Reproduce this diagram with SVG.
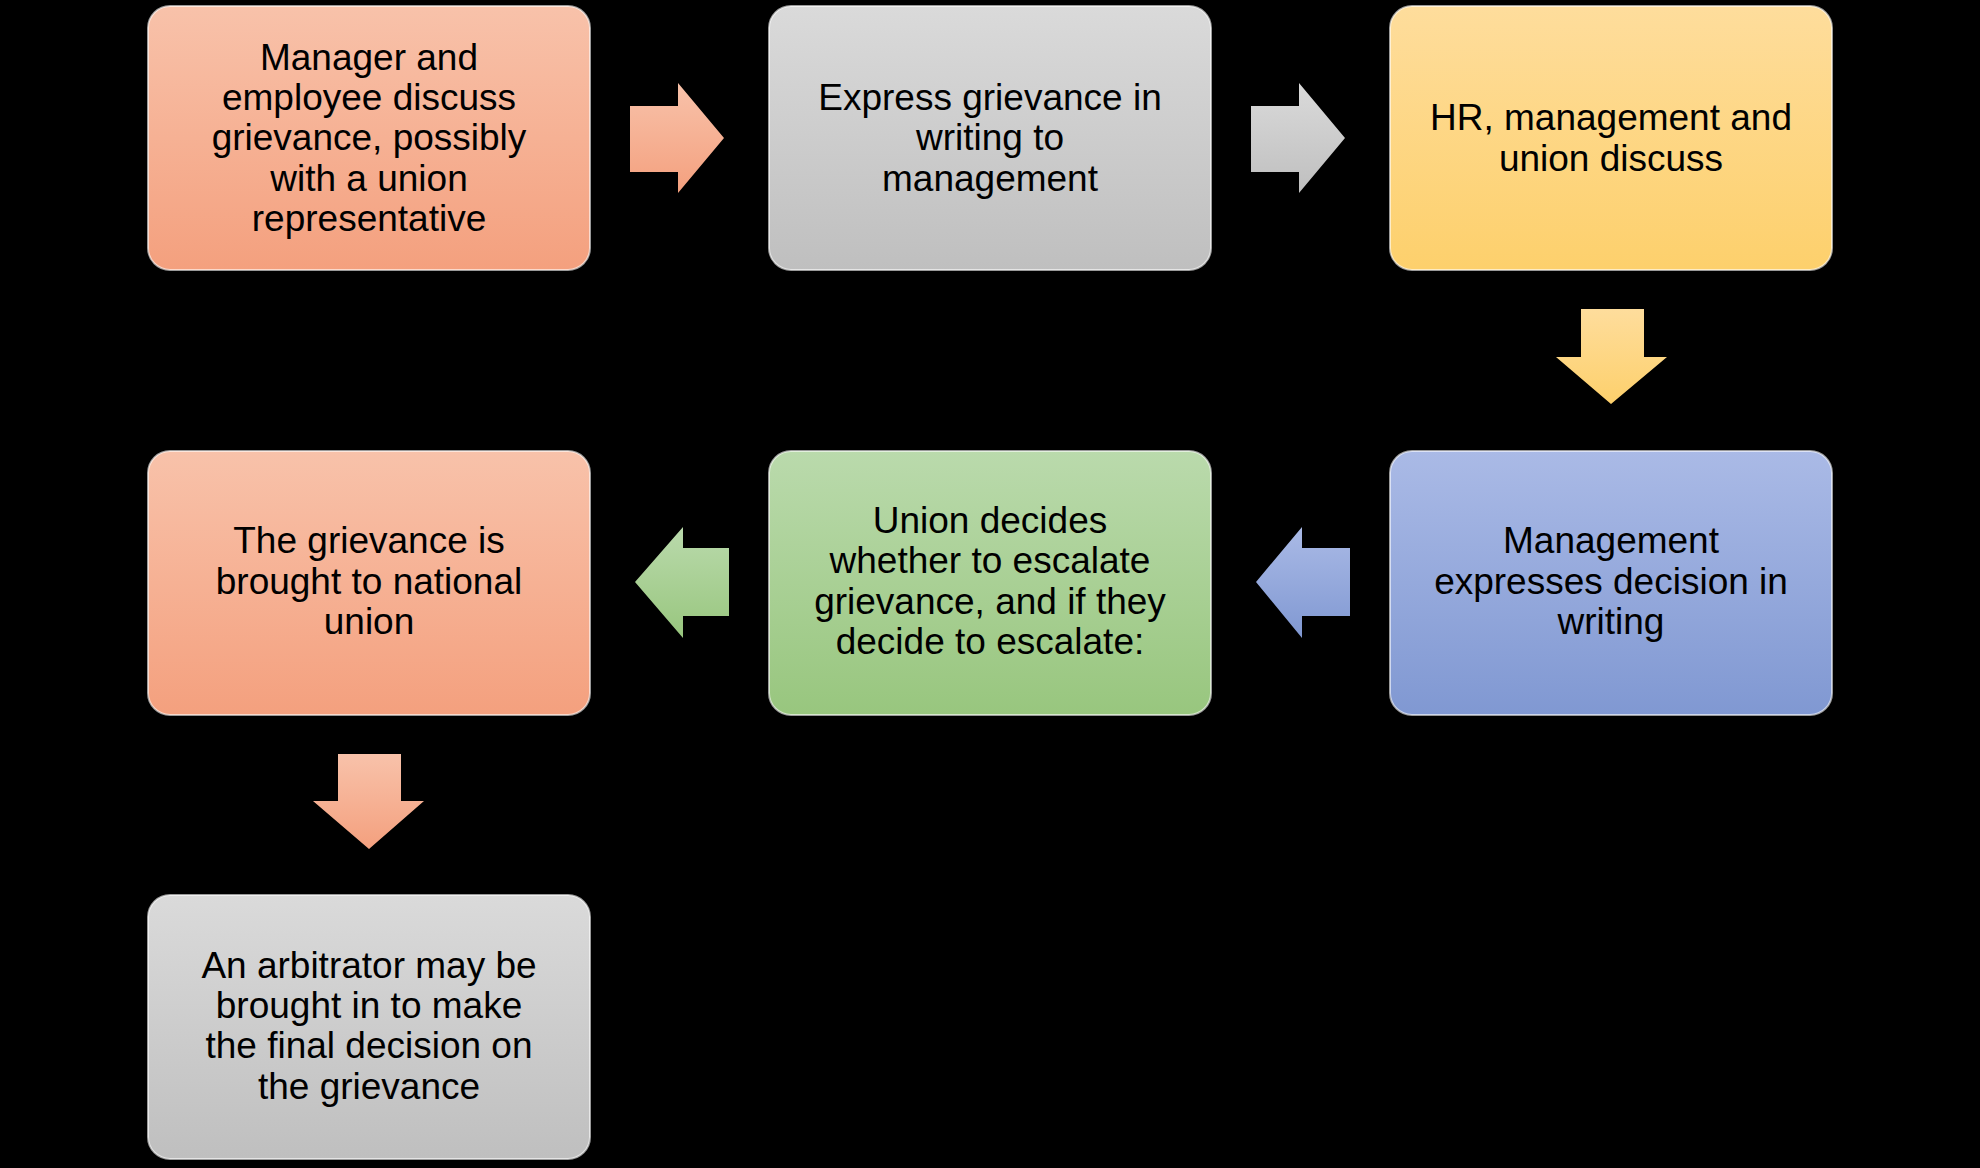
<svg xmlns="http://www.w3.org/2000/svg" width="1980" height="1168" viewBox="0 0 1980 1168">
<defs>
<linearGradient id="gO" x1="0" y1="0" x2="0" y2="1"><stop offset="0" stop-color="#f8c2aa"/><stop offset="1" stop-color="#f4a07e"/></linearGradient>
<linearGradient id="gG" x1="0" y1="0" x2="0" y2="1"><stop offset="0" stop-color="#dadada"/><stop offset="1" stop-color="#bfbfbf"/></linearGradient>
<linearGradient id="gY" x1="0" y1="0" x2="0" y2="1"><stop offset="0" stop-color="#fedd9c"/><stop offset="1" stop-color="#fdd06c"/></linearGradient>
<linearGradient id="gB" x1="0" y1="0" x2="0" y2="1"><stop offset="0" stop-color="#aabae6"/><stop offset="1" stop-color="#8098d2"/></linearGradient>
<linearGradient id="gGr" x1="0" y1="0" x2="0" y2="1"><stop offset="0" stop-color="#badaac"/><stop offset="1" stop-color="#98c67e"/></linearGradient>
<style>
.b{stroke:#ffffff;stroke-width:2;stroke-opacity:0.6}
text{font-family:"Liberation Sans",Arial,sans-serif;font-size:37px;fill:#000;text-anchor:middle}
</style>
</defs>
<rect width="1980" height="1168" fill="#000"/>
<g id="n1"><rect class="b" x="148" y="6" width="442" height="264" rx="22" fill="url(#gO)"/>
<text x="369" y="70">Manager and</text><text x="369" y="110">employee discuss</text><text x="369" y="150">grievance, possibly</text><text x="369" y="191">with a union</text><text x="369" y="231">representative</text></g>
<g id="n2"><rect class="b" x="769" y="6" width="442" height="264" rx="22" fill="url(#gG)"/>
<text x="990" y="110">Express grievance in</text><text x="990" y="150">writing to</text><text x="990" y="191">management</text></g>
<g id="n3"><rect class="b" x="1390" y="6" width="442" height="264" rx="22" fill="url(#gY)"/>
<text x="1611" y="130">HR, management and</text><text x="1611" y="171">union discuss</text></g>
<g id="n4"><rect class="b" x="148" y="451" width="442" height="264" rx="22" fill="url(#gO)"/>
<text x="369" y="553">The grievance is</text><text x="369" y="594">brought to national</text><text x="369" y="634">union</text></g>
<g id="n5"><rect class="b" x="769" y="451" width="442" height="264" rx="22" fill="url(#gGr)"/>
<text x="990" y="533">Union decides</text><text x="990" y="573">whether to escalate</text><text x="990" y="614">grievance, and if they</text><text x="990" y="654">decide to escalate:</text></g>
<g id="n6"><rect class="b" x="1390" y="451" width="442" height="264" rx="22" fill="url(#gB)"/>
<text x="1611" y="553">Management</text><text x="1611" y="594">expresses decision in</text><text x="1611" y="634">writing</text></g>
<g id="n7"><rect class="b" x="148" y="895" width="442" height="264" rx="22" fill="url(#gG)"/>
<text x="369" y="978">An arbitrator may be</text><text x="369" y="1018">brought in to make</text><text x="369" y="1058">the final decision on</text><text x="369" y="1099">the grievance</text></g>
<g id="connectors">
<polygon points="630,106 678,106 678,83 724,138 678,193 678,172 630,172" fill="url(#gO)"/>
<polygon points="1251,106 1299,106 1299,83 1345,138 1299,193 1299,172 1251,172" fill="url(#gG)"/>
<polygon points="1581,309 1644,309 1644,357 1667,357 1611,404 1556,357 1581,357" fill="url(#gY)"/>
<polygon points="1350,548 1302,548 1302,527 1256,582 1302,638 1302,616 1350,616" fill="url(#gB)"/>
<polygon points="729,548 683,548 683,527 635,582 683,638 683,616 729,616" fill="url(#gGr)"/>
<polygon points="338,754 401,754 401,801 424,801 369,849 313,801 338,801" fill="url(#gO)"/>
</g>
</svg>
